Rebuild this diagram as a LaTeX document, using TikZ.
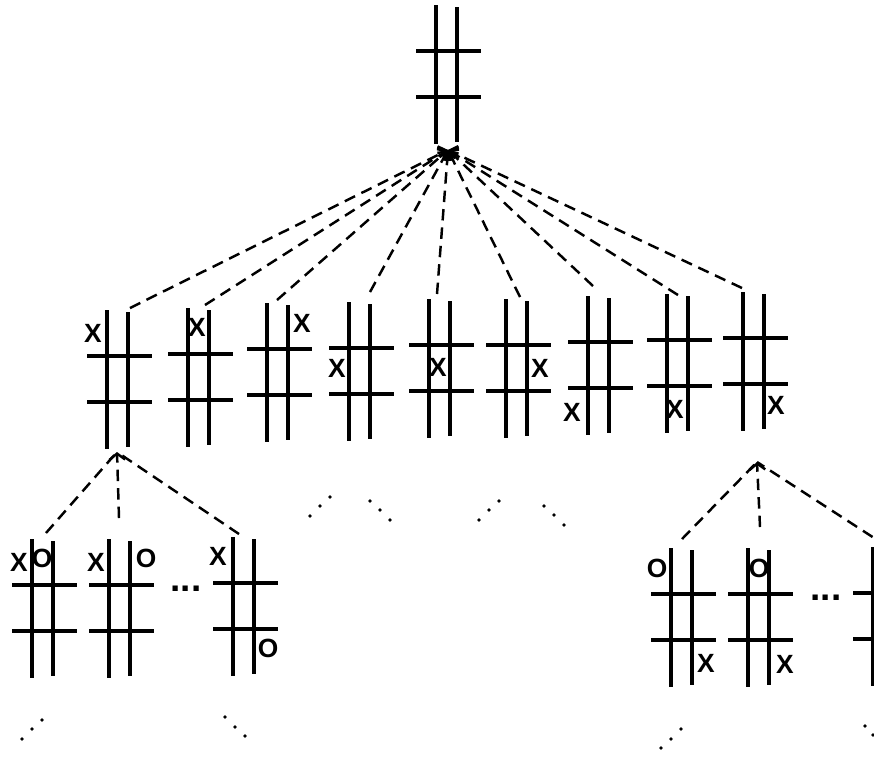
\documentclass[tikz,border=0pt]{standalone}
\usepackage{fontspec}
\setmainfont{Liberation Sans}
\usetikzlibrary{arrows.meta}
\tikzset{
  gridline/.style={line width=2.1pt},
  fanline/.style={line width=1.4pt, dash pattern=on 6.5pt off 4pt},
  fanarrow/.style={fanline, -{Straight Barb[length=3.5pt,width=9pt]}},
  cell/.style={font=\fontsize{15}{17}\selectfont\bfseries, inner sep=0pt},
  moredots/.style={font=\fontsize{21}{23}\selectfont\bfseries, inner sep=0pt}
}
\begin{document}
\begin{tikzpicture}[x=0.02cm,y=-0.02cm]
\useasboundingbox (0,0) rectangle (874,762);
\clip (0,0) rectangle (874,762);
% boards: x of left bar / top of bars
\foreach \bx/\by in {436/5,
  107/310, 188/308, 267/303, 349/302, 429/299, 506/299, 588/296, 667/294, 743/292,
  32/539, 109/539, 233/537, 671/548, 748/548, 873/547}
{
  \draw[gridline] (\bx,\by) -- (\bx,\by+139);
  \draw[gridline] (\bx+21,\by+2) -- (\bx+21,\by+137);
  \draw[gridline] (\bx-20,\by+46) -- (\bx+45,\by+46);
  \draw[gridline] (\bx-20,\by+92) -- (\bx+45,\by+92);
}
% apexes
\coordinate (root) at (448,150);
\coordinate (first) at (117,452);
\coordinate (ninth) at (757,462);
% ends of the dashed lines
\coordinate (c1) at (130,308);
\coordinate (c2) at (205,305);
\coordinate (c3) at (277,300);
\coordinate (c4) at (370,292);
\coordinate (c5) at (437,294);
\coordinate (c6) at (520,297);
\coordinate (c7) at (593,286);
\coordinate (c8) at (678,295);
\coordinate (c9) at (742,288);
\coordinate (ca) at (46,533);
\coordinate (cb) at (119,518);
\coordinate (cc) at (239,534);
\coordinate (cd) at (682,539);
\coordinate (ce) at (760,527);
\coordinate (cf) at (888,547);
\foreach \c in {c1,c2,c3,c4,c5,c6,c7,c8,c9}
  \draw[fanarrow] (\c) -- (root);
\draw[fanline] (ca) -- (first);
\draw[fanarrow] (cb) -- (first);
\draw[fanline] (cc) -- (first);
\draw[fanline] (cd) -- (ninth);
\draw[fanarrow] (ce) -- (ninth);
\draw[fanline] (cf) -- (ninth);
% first move
\node[cell] (x1) at (93,333) {X};
\node[cell] (x2) at (197,327) {X};
\node[cell] (x3) at (302,323) {X};
\node[cell] (x4) at (337,368) {X};
\node[cell] (x5) at (438,367) {X};
\node[cell] (x6) at (540,368) {X};
\node[cell] (x7) at (572,412) {X};
\node[cell] (x8) at (675,409) {X};
\node[cell] (x9) at (776,405) {X};
% second move
\node[cell] (xa) at (19,562) {X};
\node[cell] (oa) at (42,558) {O};
\node[cell] (xb) at (96,562) {X};
\node[cell] (ob) at (146,558) {O};
\node[cell] (xc) at (218,556) {X};
\node[cell] (oc) at (268,648) {O};
\node[cell] (od) at (657,568) {O};
\node[cell] (xd) at (706,663) {X};
\node[cell] (oe) at (759,568) {O};
\node[cell] (xe) at (785,664) {X};
\node[moredots] (left dots) at (186,589) {...};
\node[moredots] (right dots) at (826,598) {...};
% dots for the rest of the tree
\foreach \px/\py in {310/516, 320/506, 330/497, 370/501, 380/510, 390/520,
  479/520, 489/510, 499/501, 544/506, 554/515, 564/525,
  22/739, 32/729, 42/720, 225/717, 235/727, 245/736,
  661/748, 671/739, 681/729, 865/726, 873/735}
  \fill (\px,\py) circle[radius=1.8];
\end{tikzpicture}
\end{document}
